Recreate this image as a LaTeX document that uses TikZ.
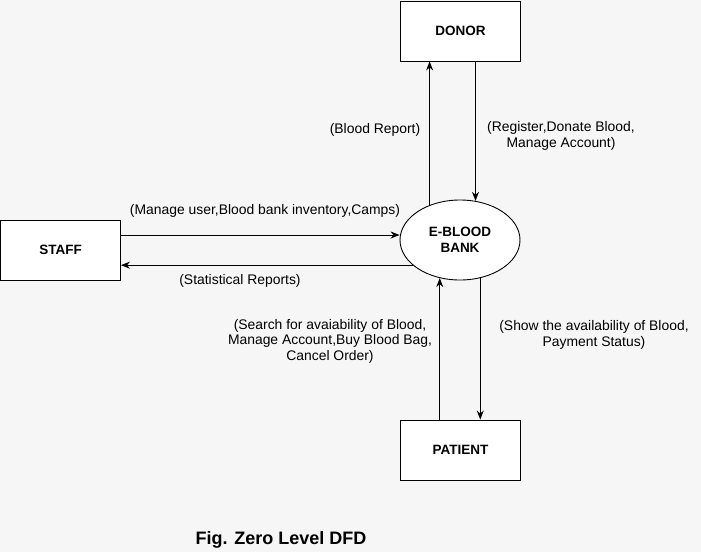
\documentclass[tikz,border=0pt]{standalone}
\usepackage{fontspec}
\setmainfont{Liberation Sans}
\definecolor{bgcolor}{RGB}{246,246,246}
\usetikzlibrary{arrows.meta, positioning, shapes.geometric}

\begin{document}
\begin{tikzpicture}[x=1pt, y=-1pt,
    entity/.style={draw, fill=white, line width=0.9pt, minimum width=120pt, minimum height=60pt, font=\fontsize{13.5}{16}\selectfont\bfseries},
    process/.style={draw, fill=white, ellipse, line width=0.9pt, minimum width=120pt, minimum height=80pt, inner sep=0pt, align=center, font=\fontsize{13.5}{16}\selectfont\bfseries},
    flowlabel/.style={align=center, font=\fontsize{13.9}{15.5}\selectfont},
    flow/.style={-{Stealth[length=9pt, width=7pt]}, line width=0.9pt}]
    \fill[bgcolor] (0,0) rectangle (701,552);
    \useasboundingbox (0,0) rectangle (701,552);

    % External entities
    \node[entity] (donor) at (460.5,31) {DONOR};
    \node[entity] (staff) at (60.5,250) {STAFF};
    \node[entity] (patient) at (460.5,450) {PATIENT};

    % Process
    \node[process] (bank) at (460,240) {E-BLOOD\\BANK};

    % Data flows
    \draw[flow] ([yshift=15pt]staff.east) -- ([yshift=15pt]staff.east -| bank.west);
    \draw[flow] (bank.208) -- (bank.208 -| staff.east);
    \draw[flow] (bank.131) -- (bank.131 |- donor.south);
    \draw[flow] ([xshift=15pt]donor.south) -- ([xshift=15pt]donor.south |- bank.69);
    \draw[flow] (bank.298) -- (bank.298 |- patient.north);
    \draw[flow] (patient.north -| bank.242) -- (bank.242);

    % Flow labels
    \node[flowlabel] (lblmanage) at (265,211) {(Manage user,Blood bank inventory,Camps)};
    \node[flowlabel] (lblstats) at (240,281) {(Statistical Reports)};
    \node[flowlabel] (lblreport) at (375,130) {(Blood Report)};
    \node[flowlabel] (lblregister) at (561,136) {(Register,Donate Blood,\\Manage Account)};
    \node[flowlabel] (lblsearch) at (330,341) {(Search for avaiability of Blood,\\Manage Account,Buy Blood Bag,\\Cancel Order)};
    \node[flowlabel] (lblshow) at (594,335) {(Show the availability of Blood,\\Payment Status)};

    % Caption
    \node[font=\fontsize{18}{22}\selectfont\bfseries] (caption) at (281,540) {Fig. Zero Level DFD};
\end{tikzpicture}
\end{document}
